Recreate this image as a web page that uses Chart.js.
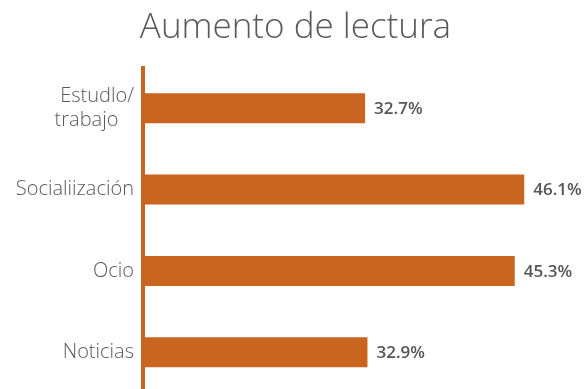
<!DOCTYPE html>
<html>
<head>
<meta charset="utf-8">
<script src="https://cdn.jsdelivr.net/npm/chart.js@4"></script>
<style>
  html, body { margin: 0; padding: 0; background: #fff; overflow: hidden; }
</style>
</head>
<body>
<canvas id="lecturaChart" width="586" height="393"></canvas>
<script>
// trailing spaces keep the two lines of the first label flush left
const categories = [["Estudlo/", "trabajo   "], "Socialiización", "Ocio", "Noticias"];
const values = [32.7, 46.1, 45.3, 32.9];

const ORANGE = "#C9651F";
const GREY = "#595959";
const FONT = "'Open Sans'";

// value labels to the right of each bar
const barLabels = {
  id: "barLabels",
  afterDatasetsDraw(chart) {
    const ctx = chart.ctx;
    const meta = chart.getDatasetMeta(0);
    ctx.save();
    ctx.font = "600 17px " + FONT;
    ctx.fillStyle = "#555555";
    ctx.textAlign = "left";
    ctx.textBaseline = "middle";
    meta.data.forEach((bar, i) => {
      ctx.fillText(values[i].toFixed(1) + "%", bar.x + 9, bar.y + 1);
    });
    ctx.restore();
  }
};

new Chart(document.getElementById("lecturaChart"), {
  type: "bar",
  data: {
    labels: categories,
    datasets: [{
      data: values,
      backgroundColor: ORANGE,
      barPercentage: 0.74,
      categoryPercentage: 0.5
    }]
  },
  options: {
    indexAxis: "y",
    responsive: false,
    animation: false,
    layout: { padding: { top: 0, right: 0, bottom: 0, left: 5 } },
    plugins: {
      legend: { display: false },
      tooltip: { enabled: false },
      title: {
        display: true,
        text: "Aumento de lectura",
        color: GREY,
        font: { family: FONT, size: 35, weight: 300 },
        padding: { top: 7, bottom: 18.5 }
      }
    },
    scales: {
      x: {
        display: false,
        min: 14,
        max: 51.3
      },
      y: {
        grid: { display: false, drawTicks: false },
        border: { display: true, color: ORANGE, width: 4 },
        ticks: {
          color: GREY,
          padding: 9,
          font: { family: FONT, size: 20, weight: 300, lineHeight: 1.2 }
        },
        afterFit(scale) {
          scale.width = 138;
          // no extra room for the end labels, bands fill the full height
          scale.paddingTop = 0;
          scale.paddingBottom = 0;
        }
      }
    }
  },
  plugins: [barLabels]
});
</script>
</body>
</html>
